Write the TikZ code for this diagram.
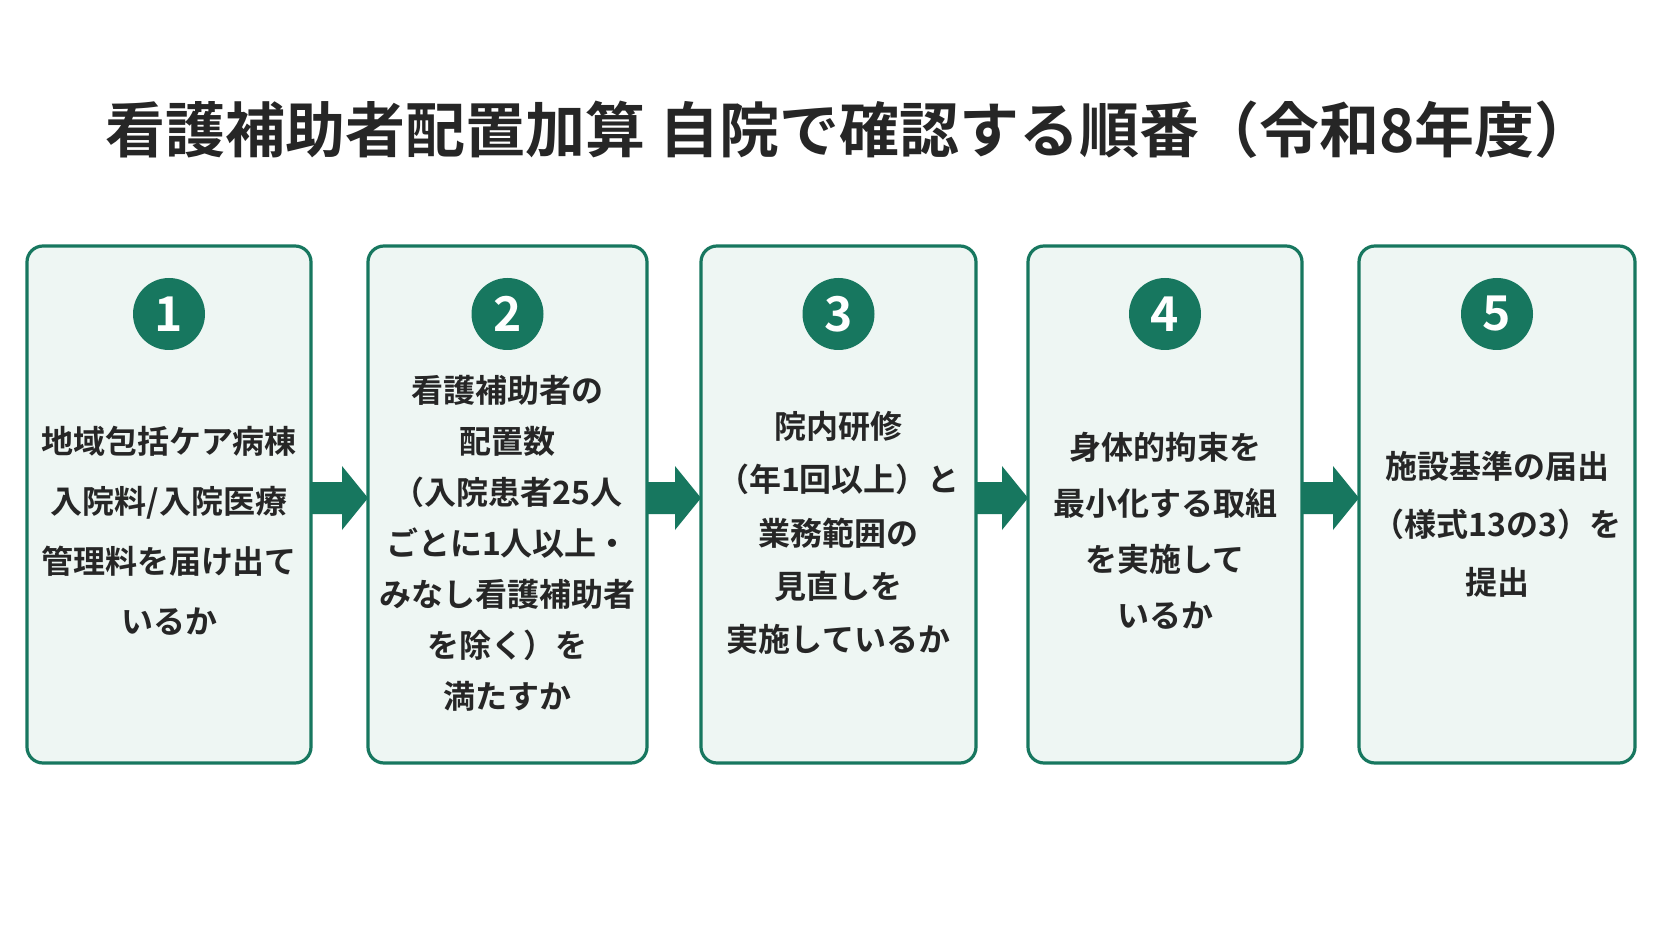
\documentclass[tikz,border=0pt]{standalone}
\usepackage{fontspec}
\setmainfont{Noto Sans CJK JP}[BoldFont={* Bold}]
\definecolor{gr}{HTML}{17775F}
\definecolor{lf}{HTML}{EEF6F3}
\begin{document}
\begin{tikzpicture}[x=0.5pt,y=-0.5pt,
 box/.style={draw=gr,line width=1.6pt,fill=lf,rounded corners=8pt},
 num/.style={circle,fill=gr,text=white,minimum size=36pt,inner sep=0pt,font=\bfseries\fontsize{24}{24}\selectfont},
 txt/.style={align=center,text=black!85}]
\useasboundingbox[fill=white] (0,0) rectangle (1672,941);
\node[font=\bfseries\fontsize{30}{30}\selectfont,text=black!85] (title) at (850,130) {看護補助者配置加算 自院で確認する順番（令和8年度）};
\def\bx#1#2#3#4#5#6{%
 \draw[box] (#1,246) rectangle (#2,763);
 \node[num] (n#3) at ({(#1+#2)/2},314) {#3};
 \node[txt,font=\bfseries\fontsize{16}{#5}\selectfont] (t#3) at ({(#1+#2)/2},#4) {#6};}
\bx{27}{311}{1}{531}{30}{地域包括ケア病棟\\入院料/入院医療\\管理料を届け出て\\いるか}
\bx{368}{647}{2}{543}{25.5}{看護補助者の\\配置数\\（入院患者25人\\ごとに1人以上・\\みなし看護補助者\\を除く）を\\満たすか}
\bx{701}{976}{3}{533}{26.7}{院内研修\\（年1回以上）と\\業務範囲の\\見直しを\\実施しているか}
\bx{1028}{1302}{4}{531}{28}{身体的拘束を\\最小化する取組\\を実施して\\いるか}
\bx{1359}{1635}{5}{524}{29}{施設基準の届出\\（様式13の3）を\\提出}
\def\ar#1#2{%
 \fill[gr] (#1,482) -- (#2-26,482) -- (#2-26,466) -- (#2,498) -- (#2-26,530) -- (#2-26,514) -- (#1,514) -- cycle;}
\ar{311}{368}
\ar{647}{701}
\ar{976}{1028}
\ar{1302}{1359}
\end{tikzpicture}
\end{document}
